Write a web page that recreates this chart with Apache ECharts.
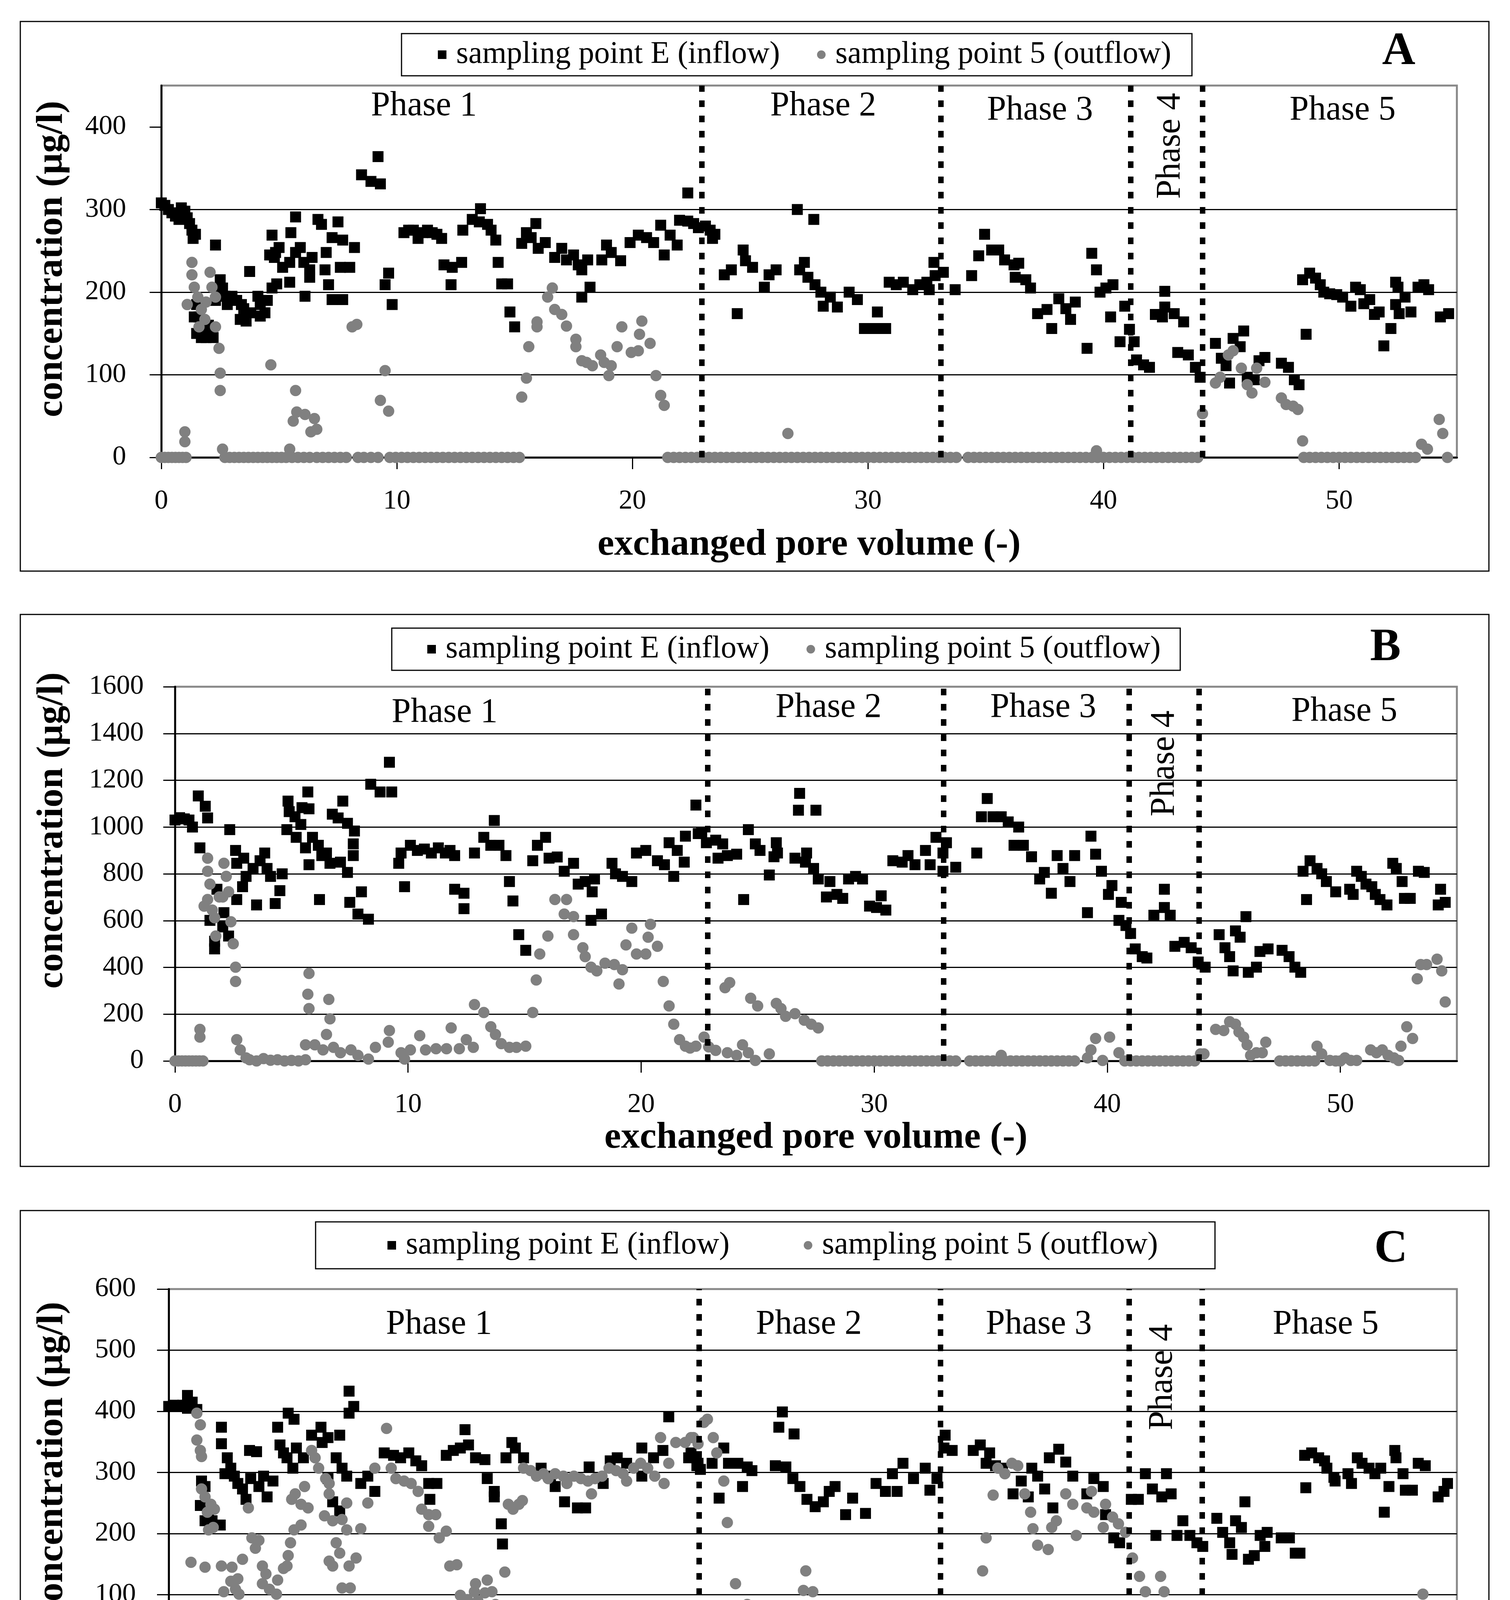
<!DOCTYPE html>
<html>
<head>
<meta charset="utf-8">
<script src="https://cdn.jsdelivr.net/npm/echarts@6/dist/echarts.min.js"></script>
<style>html,body{margin:0;padding:0;background:#fff}#c{width:3866px;height:4573px}</style>
</head>
<body>
<div id="c"></div>
<script>
// ---------------- DATA ----------------
const seriesNames = ['sampling point E (inflow)', 'sampling point 5 (outflow)'];
const xTicks = [0, 10, 20, 30, 40, 50];
const yTicksA = [0, 100, 200, 300, 400];
const yTicksB = [0, 200, 400, 600, 800, 1000, 1200, 1400, 1600];
const yTicksC = [0, 100, 200, 300, 400, 500, 600];
const phaseNames = ['Phase 1', 'Phase 2', 'Phase 3', 'Phase 4', 'Phase 5'];
const phaseLinesA = [22.95, 33.1, 41.15, 44.2];
const phaseLinesB = [22.86, 32.98, 40.93, 43.93];
const phaseLinesC = [22.65, 32.95, 41.0, 44.13];
const phaseLabelPosA = [[11.15, 425], [28.1, 425], [37.3, 420], [42.85, 377], [50.15, 420]];
const phaseLabelPosB = [[11.57, 1488], [28.04, 1510], [37.25, 1510], [42.46, 1272], [50.17, 1493]];
const phaseLabelPosC = [[11.54, 542], [27.33, 542], [37.15, 542], [42.44, 456], [49.4, 542]];

const inflowA = [[0.0,308],[0.15,305],[0.3,300],[0.45,296],[0.6,292],[0.75,288],[0.85,302],[1.0,298],[1.1,290],[1.2,283],[1.3,275],[1.35,265],[1.45,270],
[1.5,185],[1.6,170],[1.7,160],[1.8,150],[1.9,145],[2.0,160],[2.1,155],[2.2,145],[2.3,190],[2.3,257],[2.4,200],[2.5,215],[2.6,205],[2.7,195],[2.8,185],[3.0,195],[3.2,190],[3.35,167],[3.4,185],[3.5,180],[3.6,165],[3.75,225],[3.8,175],[4.1,195],[4.2,171],[4.2,185],[4.4,175],[4.5,190],[4.7,205],[4.9,210],[1.5,150],[1.7,145],[1.4,170],
[4.6,245],[4.7,269],[4.8,242],[4.85,248],[5.0,254],[5.15,230],[5.45,236],[5.45,212],[5.5,272],[5.7,291],[5.7,248],[5.9,254],[6.05,236],[6.1,195],[6.3,227],[6.3,218],[6.4,242],[6.65,288],[6.8,282],[6.95,227],[7.0,248],[7.1,209],[7.25,266],[7.25,191],[7.5,285],[7.6,230],[7.7,263],[7.7,191],[8.0,230],[8.2,254],
[8.5,342],[8.9,334],[9.3,331],[9.2,364],[9.5,209],[9.65,223],[9.8,185],
[10.3,272],[10.5,275],[10.7,275],[10.9,265],[11.1,272],[11.3,275],[11.5,272],[11.7,270],[11.9,265],
[12.0,233],[12.35,230],[12.75,236],[12.3,209],[12.8,275],[13.2,288],[13.55,301],[13.5,285],[13.85,282],[14.0,275],[14.2,263],[14.3,236],[14.45,210],[14.7,210],[14.8,176],[15.0,158],
[15.3,259],[15.5,272],[15.7,266],[15.9,283],[16.0,253],[16.3,260],[16.7,242],[17.0,253],[17.2,239],[17.5,245],[17.7,233],[17.85,227],[17.85,194],[18.1,239],[18.2,206],[18.7,239],[18.9,257],[19.1,248],[19.5,238],[19.9,260],[20.25,269],[20.6,266],[20.9,260],[21.2,281],[21.35,245],[21.6,269],[21.9,257],[22.0,287],[22.35,320],[22.35,286],[22.6,283],[22.8,278],
[23.1,280],[23.3,275],[23.5,270],[23.4,265],[23.9,221],[24.2,227],[24.45,174],[24.7,251],[24.8,238],[25.1,230],[25.6,206],[25.8,221],[26.1,227],[27.0,300],[27.7,288],[27.1,227],[27.3,236],[27.45,218],[27.75,209],[28.0,200],[28.1,183],[28.4,194],[28.7,182],[29.2,200],[29.55,191],[29.85,156],[30.4,176],[30.3,156],[30.75,156],
[30.9,212],[31.2,209],[31.5,212],[31.9,203],[32.2,209],[32.5,212],[32.6,203],[32.8,236],[32.85,220],[33.2,224],[33.7,203],
[34.4,220],[34.7,244],[34.95,270],[35.25,251],[35.55,251],[35.8,239],[36.2,233],[36.4,235],[36.25,218],[36.7,215],[36.9,205],[37.2,174],[37.6,179],[37.8,156],[38.1,192],[38.4,180],[38.6,167],[38.8,188],[39.3,132],[39.5,247],[39.7,227],[39.85,200],[40.1,205],[40.4,209],[40.3,170],[40.7,140],[40.9,183],[41.1,155],[41.3,140],[41.4,118],[41.7,112],[41.95,109],
[42.2,173],[42.5,170],[42.6,201],[42.6,182],[43.0,174],[43.4,164],[43.15,127],[43.6,124],[43.9,109],[44.1,97],
[44.75,138],[45.0,120],[45.2,111],[45.35,90],[45.5,144],[45.8,134],[45.95,153],[46.1,97],[46.4,94],[46.6,117],[46.85,121],[47.55,114],[47.85,109],[48.1,94],[48.3,88],
[48.6,149],[48.45,215],[48.75,223],[49.0,217],[49.2,209],[49.35,200],[49.6,198],[49.9,197],[50.15,194],[50.5,183],[50.7,206],[50.9,203],[51.05,186],[51.3,191],[51.5,173],[51.7,176],[51.9,135],[52.2,156],[52.4,212],[52.5,206],[52.4,185],[52.55,174],[52.8,194],[53.05,176],[53.35,206],[53.6,209],[53.8,203],[54.3,170],[54.65,174]];

const outflowA = [[1.0,31],[1.0,19],[1.3,236],[1.3,221],[1.4,206],[1.1,185],[1.55,194],[1.7,179],[1.85,167],[2.07,224],[2.15,206],[2.3,194],[1.9,188],[1.6,158],[2.3,158],[2.45,132],[2.5,102],[2.5,81],[2.6,10],
[4.65,112],[5.45,10],[5.7,81],[5.6,44],[5.75,55],[6.1,52],[6.5,47],[6.35,31],[6.6,34],
[8.1,158],[8.3,161],[9.3,69],[9.5,105],[9.65,56],
[15.3,73],[15.5,96],[15.6,134],[15.95,158],[15.95,164],[16.4,194],[16.6,205],[16.7,179],[17.0,173],[17.2,159],[17.6,143],[17.6,134],[17.85,117],[18.05,115],[18.3,111],[18.65,124],[18.8,115],[19.1,111],[19.0,99],[19.35,134],[19.55,158],[19.95,127],[20.25,129],[20.4,165],[20.3,149],[20.75,138],[21.0,99],[21.2,75],[21.35,63],
[26.6,29],[39.7,8],[44.2,53],
[44.75,90],[44.95,97],[45.3,124],[45.5,129],[45.85,108],[46.1,88],[46.3,78],[46.5,108],[46.85,91],[47.55,72],[47.75,64],[48.05,62],[48.25,58],[48.45,20],
[53.5,16],[53.75,10],[54.25,46],[54.4,29],[54.6,0]];
const outflowZeroXA = [0,0.15,0.3,0.45,0.6,0.75,0.9,1.05,2.7,2.9,3.1,3.3,3.5,3.7,3.9,4.1,4.3,4.5,4.7,4.9,5.1,5.3,5.55,5.8,6.05,6.3,6.6,6.85,7.1,7.35,7.6,7.85,8.35,8.6,8.9,9.2,9.7,9.95,10.2,10.45,10.7,10.95,11.2,11.45,11.7,11.95,12.2,12.45,12.7,12.95,13.2,13.45,13.7,13.95,14.2,14.45,14.7,14.95,15.2,21.5,21.75,22.0,22.25,22.5,22.75,23.0,23.25,23.5,23.75,24.0,24.25,24.5,24.75,25.0,25.25,25.5,25.75,26.0,26.25,26.5,26.75,27.0,27.25,27.5,27.75,28.0,28.25,28.5,28.75,29.0,29.25,29.5,29.75,30.0,30.25,30.5,30.75,31.0,31.25,31.5,31.75,32.0,32.25,32.5,32.75,33.0,33.25,33.5,33.75,34.25,34.5,34.75,35.0,35.25,35.5,35.75,36.0,36.25,36.5,36.75,37.0,37.25,37.5,37.75,38.0,38.25,38.5,38.75,39.0,39.25,39.5,39.75,40.0,40.25,40.5,40.75,41.0,41.25,41.5,41.75,42.0,42.25,42.5,42.75,43.0,43.25,43.5,43.75,44.0,48.5,48.75,49.0,49.25,49.5,49.75,50.0,50.25,50.5,50.75,51.0,51.25,51.5,51.75,52.0,52.25,52.5,52.75,53.0,53.25];

const inflowB = [[0.0,1030],[0.2,1040],[0.4,1035],[0.6,1030],[0.75,1000],[1.0,1133],[1.07,911],[1.3,1089],[1.4,1039],[2.35,989],
[1.5,601],[1.7,479],[1.7,512],[1.8,734],[2.05,573],[2.1,634],[2.3,534],
[2.6,900],[2.65,845],[2.65,690],[2.9,745],[2.95,867],[3.05,789],[3.35,823],[3.5,667],[3.65,856],[3.85,889],[3.95,823],[4.1,789],[4.3,673],[4.5,728],[4.6,800],
[4.85,1111],[4.9,1066],[5.15,1044],[4.8,989],[5.2,956],[5.45,1083],[5.75,1078],[5.7,1150],[5.4,1011],[5.6,911],[5.9,956],[6.15,922],[5.75,839],[6.5,889],[6.3,878],[6.2,690],[6.75,1055],[7.0,1039],[7.2,1111],[7.4,1016],[7.7,983],[6.65,845],[7.1,850],[7.4,806],[7.65,928],[7.65,878],[7.5,678],[8.0,723],[7.85,628],[8.3,606],
[8.4,1183],[8.8,1150],[9.3,1150],[9.2,1277],[9.6,845],[9.7,889],[9.85,745],
[10.1,922],[10.4,900],[10.7,906],[11.0,889],[11.3,911],[11.6,889],[11.8,900],[12.0,878],[12.0,734],[12.4,717],[12.4,651],[12.85,889],[13.25,956],[13.7,1028],[13.55,922],[13.9,922],[14.2,878],[14.35,767],[14.5,684],[14.75,540],[15.05,473],
[15.35,856],[15.55,922],[15.9,956],[16.05,867],[16.4,872],[16.7,811],[17.1,845],[17.3,756],[17.6,767],[17.9,723],[17.85,601],[18.3,628],[18.0,778],[18.75,845],[18.9,800],[19.2,789],[19.6,767],[19.8,889],[20.2,900],[20.7,856],[21.0,839],[21.4,789],[21.2,933],[21.55,900],[21.85,850],[21.9,961],[22.35,1094],[22.6,978],[22.8,933],
[22.45,972],[23.2,944],[23.5,928],[23.3,867],[23.7,878],[24.1,884],[24.6,989],[24.4,690],[24.9,928],[25.1,900],[25.5,795],[25.8,933],[25.85,889],[25.7,873],[26.6,867],[26.8,1144],[26.75,1072],[27.5,1072],[27.1,889],[27.05,850],[27.4,823],[27.6,778],[27.95,701],[28.1,767],[28.4,712],[28.65,695],[28.9,778],[29.2,789],[29.5,778],[29.8,662],[30.3,706],[30.5,645],[30.1,656],
[30.8,856],[31.2,850],[31.45,878],[31.75,839],[32.2,900],[32.4,839],[32.65,956],[32.95,889],[33.1,933],[32.95,811],[33.5,828],
[34.4,889],[34.85,1122],[34.6,1044],[35.1,1044],[35.45,1044],[35.75,1022],[36.2,1000],[36.0,922],[36.4,922],[36.75,873],[37.1,778],[37.3,806],[37.6,717],[37.85,878],[38.1,823],[38.4,767],[38.6,878],[39.15,634],[39.3,961],[39.5,884],[39.75,811],[40.05,712],[40.2,750],[40.6,678],[40.5,601],[40.8,579],[41.0,545],[41.2,479],[41.5,446],[41.7,440],
[42.0,623],[42.45,734],[42.45,656],[42.7,623],[42.9,490],[43.3,507],[43.6,484],[43.9,423],[44.2,401],
[44.8,540],[45.05,484],[45.25,446],[45.4,385],[45.5,556],[45.7,529],[45.95,617],[46.05,379],[46.4,401],[46.55,468],[46.9,479],[47.5,473],[47.8,446],[48.05,401],[48.3,379],
[48.55,690],[48.4,811],[48.7,856],[49.0,823],[49.2,800],[49.4,767],[49.8,723],[50.4,734],[50.55,712],[50.7,811],[50.9,789],[51.1,756],[51.35,745],[51.5,712],[51.7,690],[52.0,667],[52.25,845],[52.4,823],[52.65,767],[52.75,695],[53.0,695],[53.35,811],[53.6,806],[54.3,734],[54.2,667],[54.5,678]];

const outflowB = [[1.07,135],[1.07,102],[1.4,867],[1.4,811],[1.5,756],[1.4,690],[1.25,662],[1.7,612],[1.75,534],[1.9,701],[2.1,845],[2.2,789],[2.3,723],[2.05,701],[1.6,645],[2.4,595],[2.5,501],[2.6,401],[2.6,340],
[2.65,91],[2.8,47],[3.05,13],[3.2,5],[3.5,0],[3.8,10],[4.1,3],[4.4,5],[4.7,0],[5.0,2],[5.3,0],[5.6,5],
[5.75,374],[5.7,285],[5.75,224],[6.6,263],[6.65,180],[6.5,113],[5.6,69],[6.0,69],[6.35,47],[6.8,58],[7.1,35],[7.55,47],[7.85,24],[8.3,8],[8.6,58],[9.15,80],[9.2,130],[9.7,35],[9.85,8],[10.1,47],[10.5,108],[10.75,47],[11.2,52],[11.65,52],[11.85,141],[12.2,52],[12.5,91],[12.8,58],[12.85,241],[13.25,207],[13.55,146],[13.75,113],[14.0,74],[14.35,58],[14.65,58],[15.05,63],
[15.35,207],[15.5,346],[15.65,457],[16.0,534],[16.3,690],[16.8,690],[16.7,628],[17.1,617],[17.1,540],[17.5,484],[17.6,446],[17.85,401],[18.1,385],[18.45,418],[18.85,412],[19.05,329],[19.2,390],[19.35,496],[19.6,568],[19.8,457],[20.2,457],[20.3,529],[20.4,584],[20.7,490],[20.95,340],[21.2,235],[21.4,157],[21.65,91],[21.9,63],[22.1,55],[22.35,63],[22.7,102],[22.9,60],[23.2,45],
[23.6,313],[23.8,335],[23.7,35],[24.1,24],[24.35,69],[24.6,35],[24.9,2],[25.5,30],[24.7,268],[25.0,235],[25.8,246],[26.0,224],[26.2,191],[26.6,202],[27.0,174],[27.3,157],[27.6,141],
[35.45,24],[39.15,13],[39.3,47],[39.5,96],[39.8,2],[40.1,102],[40.5,35],[44.0,30],[44.15,30],
[44.65,135],[45.0,130],[45.25,168],[45.5,157],[45.65,124],[45.85,102],[46.0,69],[46.15,24],[46.4,35],[46.65,35],[46.8,80],
[49.0,63],[49.2,30],[49.55,2],[50.2,13],[50.45,2],[50.7,2],[51.3,47],[51.55,35],[51.8,47],[52.05,24],[52.3,13],[52.5,2],[52.6,63],[52.85,146],[53.1,96],[53.3,351],[53.45,412],[53.7,412],[54.15,435],[54.35,385],[54.5,252]];
const outflowZeroXB = [0,0.15,0.3,0.45,0.6,0.75,0.9,1.05,1.2,27.75,28.0,28.25,28.5,28.75,29.0,29.25,29.5,29.75,30.0,30.25,30.5,30.75,31.0,31.25,31.5,31.75,32.0,32.25,32.5,32.75,33.0,33.25,33.5,34.1,34.35,34.6,34.85,35.1,35.35,35.6,35.85,36.1,36.35,36.6,36.85,37.1,37.35,37.6,37.85,38.1,38.35,38.6,40.75,41.0,41.25,41.5,41.75,42.0,42.25,42.5,42.75,43.0,43.25,43.5,43.75,47.4,47.65,47.9,48.15,48.4,48.65,48.9,49.8,50.0];

const inflowC = [[0.0,408],[0.2,410],[0.4,408],[0.6,410],[0.8,426],[0.8,405],[1.0,415],[1.2,403],
[1.4,286],[1.55,277],[1.35,246],[1.7,231],[1.55,221],[1.85,221],[2.2,214],[2.25,374],[2.25,347],[2.5,324],[2.4,298],[2.65,307],[2.8,294],[2.95,282],[3.15,273],[3.3,256],[3.45,336],[3.75,334],[3.5,290],[3.85,277],[4.05,294],[4.2,260],[4.45,286],[4.65,374],[4.75,345],[4.9,332],[5.1,397],[5.35,387],[5.05,324],[5.3,307],[5.45,340],[5.75,324],[6.1,361],[6.5,374],[6.8,357],[7.3,361],[6.55,349],[7.15,324],[7.4,307],[7.6,294],[6.8,290],[7.0,252],[7.3,237],[7.7,433],[7.9,408],[7.7,397],
[8.2,282],[8.5,294],[8.8,269],[9.2,332],[9.6,328],[9.9,324],[10.25,332],[10.55,319],[10.8,311],[11.1,282],[11.15,256],[11.45,282],
[11.85,328],[12.15,336],[12.45,340],[12.65,370],[12.8,345],[13.1,324],[13.5,321],[13.6,290],[13.9,269],[13.9,260],[14.2,216],[14.25,183],[14.4,324],[14.65,349],[14.8,340],[15.15,324],
[15.9,307],[16.3,294],[16.5,277],[16.9,252],[17.45,242],[17.8,242],[17.95,309],[18.55,282],[18.85,319],[19.15,324],[19.55,315],[20.2,340],[20.2,294],[20.7,324],[21.1,336],[21.35,391],[22.2,324],[22.55,311],
[22.3,332],[22.6,315],[22.7,305],[23.2,315],[23.7,340],[23.9,315],[24.3,315],[24.5,277],[23.5,258],[24.7,309],[24.9,303],
[26.2,399],[26.05,374],[26.7,363],[25.9,311],[26.35,309],[26.65,290],[26.95,277],[27.25,256],[27.6,244],[27.95,252],[28.2,269],[28.45,277],[28.9,231],[29.2,258],[29.75,233],[30.2,282],[30.6,269],[30.9,298],[31.1,269],[31.35,315],[31.8,290],[32.3,307],[32.5,271],[32.8,290],
[33.15,361],[33.1,340],[33.45,336],[34.35,336],[34.65,345],[35.05,332],[34.9,315],[35.3,311],[35.6,307],[36.05,265],[36.4,286],[36.85,307],[36.7,260],[37.1,294],[37.4,273],[37.75,242],[37.6,324],[38.0,338],[38.3,317],[38.6,294],[39.2,265],[39.5,290],[39.9,277],[40.0,231],[40.35,193],[40.6,185],
[41.1,256],[41.4,256],[41.7,298],[42.0,273],[42.4,260],[42.6,298],[42.8,265],[42.15,197],[43.05,197],[43.3,221],[43.6,197],[43.9,185],[44.15,179],
[44.75,225],[45.0,202],[45.3,185],[45.4,166],[45.55,221],[45.8,210],[45.95,252],[46.1,158],[46.35,164],[46.6,197],[46.8,179],[46.9,202],[47.5,193],[47.85,193],[48.1,168],[48.3,168],
[48.55,275],[48.5,328],[48.8,332],[49.1,324],[49.35,319],[49.45,307],[49.75,292],[49.8,286],[50.35,298],[50.5,282],[50.75,324],[50.95,315],[51.25,307],[51.5,298],[51.75,307],[51.9,235],[52.1,277],[52.35,336],[52.4,324],[52.7,298],[52.8,271],[53.1,271],[53.35,315],[53.65,311],[54.2,260],[54.45,269],[54.6,282]];

const outflowC = [[0.95,153],[1.55,145],[1.2,397],[1.35,378],[1.2,353],[1.35,336],[1.4,326],[1.4,273],[1.55,260],[1.8,248],[1.95,240],[1.65,235],[1.7,206],[1.9,210],[2.25,147],[2.35,105],[2.25,80],[1.7,76],[1.65,61],[2.2,50],[2.5,46],[2.5,27],[2.65,122],[2.8,122],[2.95,126],[3.0,101],[2.7,145],[3.15,158],[2.85,109],
[3.4,242],[3.55,193],[3.85,189],[3.7,176],[4.0,147],[4.15,134],[4.0,118],[4.3,109],[4.6,101],[4.65,124],[4.9,143],[5.05,147],[5.1,164],[5.2,185],[5.35,206],[5.65,214],[5.25,256],[5.4,265],[5.65,248],[5.8,277],[5.95,242],[6.1,336],[6.25,324],[6.4,307],[6.7,290],[6.85,282],[6.85,265],[6.65,229],[7.0,221],[7.4,223],[7.6,206],[7.15,185],[7.3,168],[6.85,155],[7.0,147],[7.7,147],[8.0,160],[7.4,111],[7.75,111],[7.6,250],[8.2,208],[8.5,250],[8.8,307],[9.3,372],
[9.5,307],[9.7,290],[10.05,286],[10.35,282],[10.65,269],[10.8,240],[11.1,231],[11.4,231],[11.1,212],[11.55,193],[11.85,204],[12.0,147],[12.3,149],[12.45,99],[12.75,92],[13.05,105],[13.1,118],[13.5,103],[13.6,124],[13.8,105],[13.2,90],[13.95,84],[14.25,80],[14.35,137],[14.5,248],[14.7,240],[14.95,248],[15.1,254],[15.15,307],[15.45,303],[15.7,294],[16.0,298],[16.2,290],[16.5,298],[16.85,294],[17.0,282],[17.3,294],[17.6,290],[17.9,286],[18.05,265],[18.2,290],[18.5,294],[18.8,307],[19.1,303],[19.4,298],[19.55,286],[19.85,307],[20.15,315],[20.45,307],[20.75,294],[21.15,282],[21.0,357],[21.35,315],[21.65,349],[22.05,349],[22.4,357],[22.85,382],
[22.3,357],[22.6,347],[23.0,387],[23.25,357],[23.4,332],[23.7,286],[23.85,218],[24.2,118],[24.4,71],[24.7,84],[24.7,63],[25.0,44],[24.5,0],[25.6,63],[25.9,63],[26.1,38],[26.3,25],[27.2,139],[27.1,107],[27.5,105],[27.6,46],[27.7,21],
[29.4,21],[29.7,25],[30.6,55],[30.8,32],[32.55,38],[32.85,46],[33.15,25],[33.45,8],[33.6,0],[34.3,0],[34.6,38],
[34.75,139],[34.9,193],[35.2,263],[35.4,307],[35.7,298],[36.0,315],[36.25,311],[36.55,265],[36.8,235],[36.9,208],[37.1,181],[37.55,174],[37.7,210],[37.9,221],[38.3,265],[38.6,248],[38.75,197],[39.2,242],[39.5,235],[39.4,269],[39.9,210],[40.0,248],[40.3,227],[40.55,216],[40.85,202],[41.15,160],[41.45,130],[41.7,105],[41.9,67],[42.15,46],[42.35,130],[42.5,105],[42.65,67],[42.9,44],[43.3,46],[43.65,61],[44.1,36],[43.2,44],[43.95,50],
[52.9,21],[53.35,50],[53.55,101],[53.75,36],[54.15,42],[54.35,25],[54.55,2]];
const outflowZeroXC = [0,0.15,0.3,0.45,0.6,0.75,0.9,1.05,26.3,26.55,26.8,27.05,27.8,28.05,28.3,28.55,28.8,29.05,29.3,30.0,30.25,30.5,30.9,31.15,31.4,31.65,31.9,32.15,32.4,44.6,44.85,45.1,45.35,45.6,45.85,46.1,46.35,46.6,46.85,47.35,47.6,47.85,48.1,48.35,48.6,48.85,49.1,49.35,49.6,49.85,50.2,50.45,50.7,50.95,51.2,51.45,51.7,51.95,52.2,52.45,52.7,52.95,53.2];

// ---------------- CHART ----------------
const FONT = 'Liberation Serif';
const panels = [
  { letter:'A', box:[52,55,3760,1407], letterPos:[3581,134], grid:{left:413, top:219, right:136, height:952},
    yMax:450, yInt:100, yTicks:yTicksA, inflow:inflowA, outflow:outflowA, zeros:outflowZeroXA,
    lines:phaseLinesA, labels:phaseLabelPosA, labelMargin:90, xNameGap:176, yNameGap:232, yShift:64,
    legend:{left:1028, top:86, padding:[14,53,14,93], itemGap:95} },
  { letter:'B', box:[52,1573,3760,1413], letterPos:[3547,1660], grid:{left:448, top:1758, right:136, height:958},
    yMax:1600, yInt:200, yTicks:yTicksB, inflow:inflowB, outflow:outflowB, zeros:outflowZeroXB,
    lines:phaseLinesB, labels:phaseLabelPosB, labelMargin:80, xNameGap:149, yNameGap:266, yShift:222,
    legend:{left:1003, top:1608, padding:[14,50,14,91], itemGap:95} },
  { letter:'C', box:[52,3099,3760,1413], letterPos:[3561,3200], grid:{left:432, top:3300, right:136, height:939},
    yMax:600, yInt:100, yTicks:yTicksC, inflow:inflowC, outflow:outflowC, zeros:outflowZeroXC,
    lines:phaseLinesC, labels:phaseLabelPosC, labelMargin:84, xNameGap:152, yNameGap:250, yShift:64,
    legend:{left:808, top:3128, padding:[20,146,20,184], itemGap:190} }
];

const option = {
  animation:false,
  backgroundColor:'#fff',
  textStyle:{fontFamily:FONT, color:'#000'},
  grid:[], xAxis:[], yAxis:[], series:[], legend:[], graphic:[]
};

panels.forEach((p, i) => {
  option.grid.push(Object.assign({show:true, borderColor:'#888', borderWidth:5, backgroundColor:'transparent'}, p.grid));
  option.xAxis.push({
    type:'value', gridIndex:i, min:0, max:55, interval:10,
    name:'exchanged pore volume (-)', nameLocation:'middle', nameGap:p.xNameGap,
    nameTextStyle:{fontFamily:FONT, fontWeight:'bold', fontSize:96, color:'#000'},
    axisLine:{show:true, onZero:false, lineStyle:{color:'#000', width:5}},
    axisTick:{show:true, inside:false, length:30, lineStyle:{color:'#000', width:3}, customValues:xTicks},
    axisLabel:{fontFamily:FONT, fontSize:70, color:'#000', margin:78, customValues:xTicks, formatter:v => String(v)},
    splitLine:{show:false}
  });
  option.yAxis.push({
    type:'value', gridIndex:i, min:0, max:p.yMax, interval:p.yInt,
    name:'concentration (µg/l)', nameLocation:'middle', nameGap:p.yNameGap,
    nameTextStyle:{fontFamily:FONT, fontWeight:'bold', fontSize:96, color:'#000', lineHeight:96, padding:[0,0,0,p.yShift]},
    axisLine:{show:true, onZero:false, lineStyle:{color:'#000', width:5}},
    axisTick:{show:true, inside:false, length:30, lineStyle:{color:'#000', width:3}, customValues:p.yTicks},
    axisLabel:{fontFamily:FONT, fontSize:70, color:'#000', margin:p.labelMargin, customValues:p.yTicks, formatter:v => String(v)},
    splitLine:{show:true, showMinLine:false, showMaxLine:false, lineStyle:{color:'#000', width:3}}
  });
  option.series.push({
    type:'scatter', name:seriesNames[0], xAxisIndex:i, yAxisIndex:i,
    symbol:'rect', symbolSize:28, itemStyle:{color:'#000', opacity:1}, silent:true, z:2,
    data:p.inflow
  });
  option.series.push({
    type:'scatter', name:seriesNames[1], xAxisIndex:i, yAxisIndex:i,
    symbol:'circle', symbolSize:29, itemStyle:{color:'#808080', opacity:1}, silent:true, z:3,
    data:p.outflow.concat(p.zeros.map(x => [x, 0])),
    markLine:{
      silent:true, symbol:['none','none'], label:{show:false}, animation:false,
      lineStyle:{color:'#000', width:14, type:[17, 22], opacity:1},
      emphasis:{disabled:true},
      data:p.lines.map(v => ({xAxis:v}))
    },
    markPoint:{
      silent:true, animation:false, symbol:'rect', symbolSize:1,
      itemStyle:{color:'rgba(0,0,0,0)'},
      data:p.labels.map((c, k) => ({
        name:phaseNames[k], coord:c,
        label:{show:true, position:'inside', formatter:phaseNames[k], fontFamily:FONT, fontSize:88, color:'#000',
               rotate: k === 3 ? 90 : 0}
      }))
    }
  });
  option.legend.push({
    show:true, orient:'horizontal', left:p.legend.left, top:p.legend.top,
    padding:p.legend.padding, itemGap:p.legend.itemGap,
    borderColor:'#000', borderWidth:3, backgroundColor:'#fff',
    itemWidth:22, itemHeight:22, selectedMode:false,
    textStyle:{fontFamily:FONT, fontSize:80, color:'#000', lineHeight:78},
    formatter:n => ' ' + n,
    data:[{name:seriesNames[0], icon:'rect'}, {name:seriesNames[1], icon:'circle'}]
  });
  option.graphic.push({
    type:'rect', silent:true, z:-10,
    shape:{x:p.box[0], y:p.box[1], width:p.box[2], height:p.box[3]},
    style:{fill:'transparent', stroke:'#000', lineWidth:3}
  });
  option.graphic.push({
    type:'text', silent:true, x:p.letterPos[0], y:p.letterPos[1],
    style:{text:p.letter, fontFamily:FONT, fontWeight:'bold', fontSize:118, fill:'#000', align:'center', verticalAlign:'middle'}
  });
});

const chart = echarts.init(document.getElementById('c'), null, {renderer:'canvas', width:3866, height:4573});
chart.setOption(option);
</script>
</body>
</html>
